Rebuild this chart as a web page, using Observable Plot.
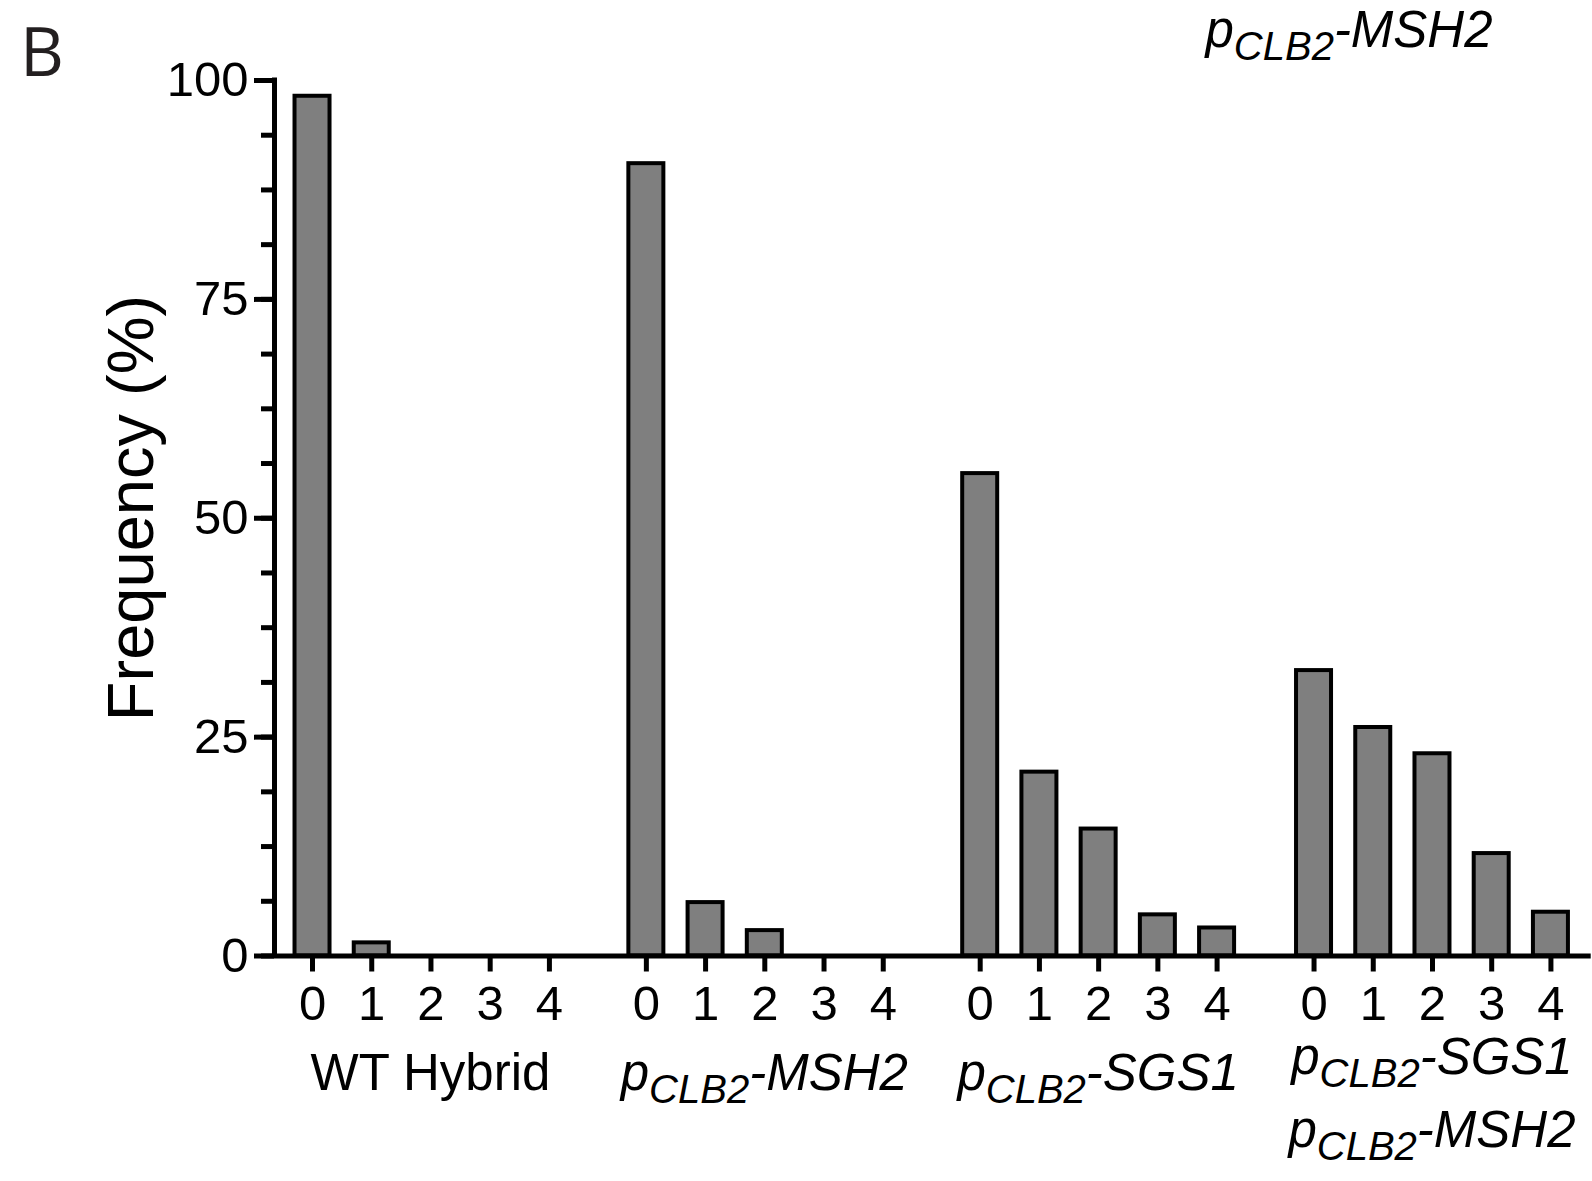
<!DOCTYPE html>
<html><head><meta charset="utf-8">
<script src="https://cdn.jsdelivr.net/npm/d3@7"></script>
<script src="https://cdn.jsdelivr.net/npm/@observablehq/plot@0.6"></script>
<style>html,body{margin:0;padding:0;background:#fff;} svg{display:block;}</style>
</head><body><div id="chart"></div>
<script>
// ---- data ----
const groups = ["WT Hybrid", "pCLB2-MSH2", "pCLB2-SGS1", "pCLB2-SGS1 pCLB2-MSH2"];
const bins = [0, 1, 2, 3, 4];
const wtHybrid     = [98.2, 1.5, 0, 0, 0];
const clb2Msh2     = [90.5, 6.1, 2.9, 0, 0];
const clb2Sgs1     = [55.1, 21.0, 14.5, 4.7, 3.2];
const clb2Sgs1Msh2 = [32.6, 26.1, 23.1, 11.7, 5.0];
const yTicks = [0, 25, 50, 75, 100];
const yLabel = "Frequency (%)";
const panelLetter = "B";
// label segments: [text, isSubscript]
const groupLabelLines = [
  [[["WT Hybrid", 0]]],
  [[["p", 0], ["CLB2", 1], ["-MSH2", 0]]],
  [[["p", 0], ["CLB2", 1], ["-SGS1", 0]]],
  [[["p", 0], ["CLB2", 1], ["-SGS1", 0]], [["p", 0], ["CLB2", 1], ["-MSH2", 0]]]
];
const groupItalic = [false, true, true, true];
const cornerLabel = [["p", 0], ["CLB2", 1], ["-MSH2", 0]];

// ---- layout ----
const series = [wtHybrid, clb2Msh2, clb2Sgs1, clb2Sgs1Msh2];
const GROUP_STEP = 5.637;
const BAR_HALF = 0.2955;
const table = groups.flatMap((g, gi) => bins.map((b, bi) => ({
  group: g, bin: b, pos: gi * GROUP_STEP + bi, value: series[gi][bi]
})));
const posToBin = new Map(table.map(d => [d.pos, d.bin]));
const xDomain = [-0.642, 3 * GROUP_STEP + 4 + 0.68];
const FONT = "'Liberation Sans', Arial, Helvetica, sans-serif";

const plot = Plot.plot({
  width: 1592, height: 1181,
  marginTop: 80, marginBottom: 225.5, marginLeft: 274, marginRight: 1.3,
  x: {type: "linear", domain: xDomain},
  y: {domain: [0, 100]},
  style: {fontFamily: FONT, background: "#fff", color: "#000"},
  marks: [
    Plot.rect(table, {x1: d => d.pos - BAR_HALF, x2: d => d.pos + BAR_HALF, y1: 0, y2: "value",
      fill: "#7f7f7f", stroke: "#000", strokeWidth: 4}),
    Plot.ruleX([xDomain[0]], {strokeWidth: 5, strokeLinecap: "square"}),
    Plot.ruleY([0], {strokeWidth: 5}),
    Plot.axisY({ticks: d3.range(0, 100.01, 6.25), tickSize: 13, tickFormat: () => null, strokeWidth: 5, label: null}),
    Plot.axisY({ticks: yTicks, tickSize: 20, tickPadding: 6, fontSize: 49, strokeWidth: 5, label: null}),
    Plot.axisX({ticks: table.map(d => d.pos), tickFormat: p => posToBin.get(p), tickSize: 16, tickPadding: 13,
      fontSize: 49, strokeWidth: 5, label: null})
  ]
});
document.getElementById("chart").appendChild(plot);

const svg = d3.select(plot);
const xs = plot.scale("x");

function richText(x, y, segs, italic, size, subSize, shift) {
  const t = svg.append("text").attr("x", x).attr("y", y)
    .attr("text-anchor", "middle").attr("font-family", FONT)
    .attr("font-size", size).attr("font-style", italic ? "italic" : "normal").attr("fill", "#000");
  segs.forEach(([s, sub], i) => {
    const prevSub = i > 0 && segs[i - 1][1];
    const dy = sub ? shift : (prevSub ? -shift : 0);
    t.append("tspan").attr("dy", dy).attr("font-size", sub ? subSize : size).text(s);
  });
}

groupLabelLines.forEach((lines, gi) => {
  const cx = xs.apply(gi * GROUP_STEP + 2);
  const ys = lines.length === 1 ? [1090] : [1074, 1147];
  lines.forEach((segs, li) => richText(cx, ys[li], segs, groupItalic[gi], 51, 40, 13));
});
richText(1349, 47, cornerLabel, true, 51, 40, 13);

svg.append("text").attr("transform", "translate(153,508) rotate(-90)")
  .attr("text-anchor", "middle").attr("font-family", FONT).attr("font-size", 65).attr("fill", "#000")
  .text(yLabel);
svg.append("text").attr("x", 42).attr("y", 76)
  .attr("font-family", "'Open Sans', 'Noto Sans', sans-serif").attr("font-size", 68).attr("fill", "#231f20")
  .text(panelLetter);
</script></body></html>
